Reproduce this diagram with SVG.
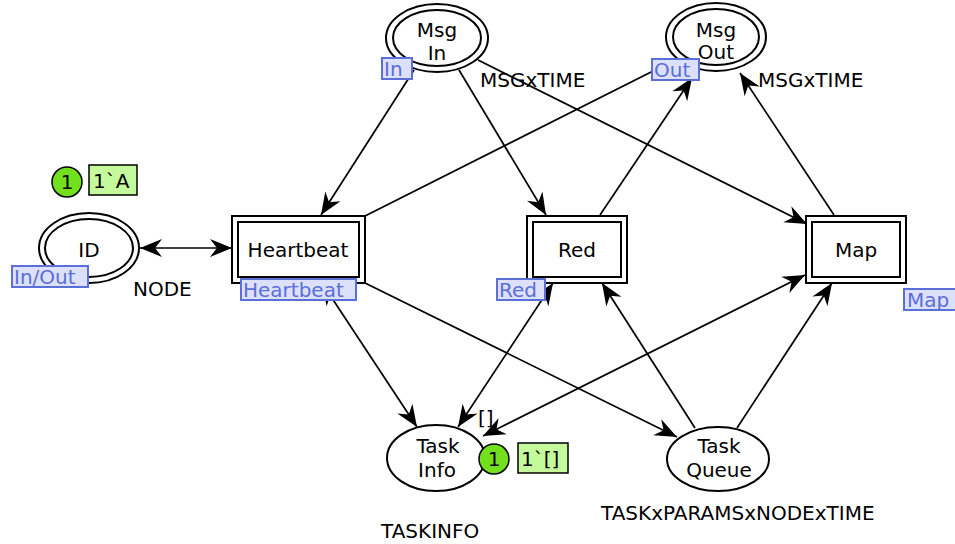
<svg xmlns="http://www.w3.org/2000/svg" width="955" height="544" viewBox="0 0 955 544">
  <defs>
    <marker id="ah" viewBox="-24 -12 26 24" refX="0" refY="0" markerWidth="26" markerHeight="24" markerUnits="userSpaceOnUse" orient="auto-start-reverse">
      <path d="M0,0 L-22,-9 L-15,0 L-22,9 Z" fill="#000"/>
    </marker>
    <style>
      text { font-family: "DejaVu Sans", Verdana, sans-serif; font-size: 20px; fill: #000; }
      .mid { text-anchor: middle; }
      .shape { fill: #fff; stroke: #000; stroke-width: 2; }
      .arc { fill: none; stroke: #000; stroke-width: 1.7; }
      .end { marker-end: url(#ah); }
      .both { marker-start: url(#ah); marker-end: url(#ah); }
      .port rect { fill: #dde0fa; stroke: #5a6fd8; stroke-width: 2; }
      .port text { fill: #5a6fd8; }
      .tok circle { fill: #72e01c; stroke: #000; stroke-width: 1.5; }
      .tok rect { fill: #c4f99c; stroke: #000; stroke-width: 1.5; }
    </style>
  </defs>

  <rect width="955" height="544" fill="#fff"/>

  <!-- arcs -->
  <g id="arcs">
    <line class="arc end" x1="414" y1="70" x2="321" y2="215"/>
    <line class="arc end" x1="459" y1="70" x2="546" y2="215"/>
    <line class="arc end" x1="478" y1="60" x2="807" y2="224"/>
    <line class="arc end" x1="365" y1="216" x2="675" y2="60"/>
    <line class="arc end" x1="600" y1="215" x2="692" y2="78"/>
    <line class="arc end" x1="834" y1="215" x2="740" y2="73"/>
    <line class="arc both" x1="140" y1="248" x2="232" y2="248"/>
    <line class="arc both" x1="322" y1="283" x2="417" y2="427"/>
    <line class="arc end" x1="365" y1="283" x2="677" y2="437"/>
    <line class="arc both" x1="553" y1="283" x2="458" y2="427"/>
    <line class="arc both" x1="805" y1="275" x2="483" y2="436"/>
    <line class="arc end" x1="695" y1="428" x2="602" y2="283"/>
    <line class="arc end" x1="737" y1="428" x2="832" y2="283"/>
    <text x="478" y="425">[]</text>
  </g>

  <!-- places -->
  <g id="msg-in">
    <ellipse class="shape" cx="437" cy="38" rx="51" ry="34"/>
    <ellipse class="shape" cx="437" cy="38" rx="44" ry="28"/>
    <text class="mid" x="437" y="37">Msg</text>
    <text class="mid" x="437" y="60">In</text>
    <text x="480" y="87">MSGxTIME</text>
    <g class="port"><rect x="382" y="58" width="30" height="21"/><text x="384" y="76">In</text></g>
  </g>

  <g id="msg-out">
    <ellipse class="shape" cx="716" cy="37" rx="50" ry="34"/>
    <ellipse class="shape" cx="716" cy="37" rx="43" ry="28"/>
    <text class="mid" x="716" y="37">Msg</text>
    <text class="mid" x="716" y="59">Out</text>
    <text x="758" y="87">MSGxTIME</text>
    <g class="port"><rect x="652" y="59" width="47" height="21"/><text x="654" y="77">Out</text></g>
  </g>

  <g id="id">
    <ellipse class="shape" cx="89" cy="248" rx="50" ry="35"/>
    <ellipse class="shape" cx="89" cy="248" rx="44" ry="29"/>
    <text class="mid" x="89" y="257">ID</text>
    <text x="133" y="296">NODE</text>
    <g class="port"><rect x="12" y="266" width="76" height="21"/><text x="14" y="284">In/Out</text></g>
    <g class="tok">
      <circle cx="67" cy="182" r="15"/>
      <text class="mid" x="67" y="189">1</text>
      <rect x="89" y="165" width="48" height="30"/>
      <text x="93" y="188">1`A</text>
    </g>
  </g>

  <g id="task-info">
    <ellipse class="shape" cx="436" cy="458" rx="49" ry="33"/>
    <text class="mid" x="438" y="453">Task</text>
    <text class="mid" x="437" y="477">Info</text>
    <text x="381" y="538">TASKINFO</text>
    <g class="tok">
      <circle cx="494" cy="459" r="15"/>
      <text class="mid" x="494" y="466">1</text>
      <rect x="518" y="443" width="50" height="30"/>
      <text x="521" y="466">1`[]</text>
    </g>
  </g>

  <g id="task-queue">
    <ellipse class="shape" cx="718" cy="459" rx="51" ry="32"/>
    <text class="mid" x="719" y="453">Task</text>
    <text class="mid" x="719" y="477">Queue</text>
    <text x="601" y="520">TASKxPARAMSxNODExTIME</text>
  </g>

  <!-- transitions -->
  <g id="heartbeat">
    <rect class="shape" x="232" y="216" width="133" height="67"/>
    <rect class="shape" x="238" y="222" width="121" height="55"/>
    <text class="mid" x="298" y="257">Heartbeat</text>
    <g class="port"><rect x="241" y="279" width="115" height="21"/><text x="243" y="297">Heartbeat</text></g>
  </g>

  <g id="red">
    <rect class="shape" x="527" y="216" width="100" height="67"/>
    <rect class="shape" x="533" y="222" width="88" height="55"/>
    <text class="mid" x="577" y="257">Red</text>
    <g class="port"><rect x="497" y="279" width="48" height="21"/><text x="499" y="297">Red</text></g>
  </g>

  <g id="map">
    <rect class="shape" x="806" y="216" width="100" height="67"/>
    <rect class="shape" x="812" y="222" width="88" height="55"/>
    <text class="mid" x="856" y="257">Map</text>
    <g class="port"><rect x="904" y="289" width="52" height="21"/><text x="907" y="307">Map</text></g>
  </g>
</svg>
